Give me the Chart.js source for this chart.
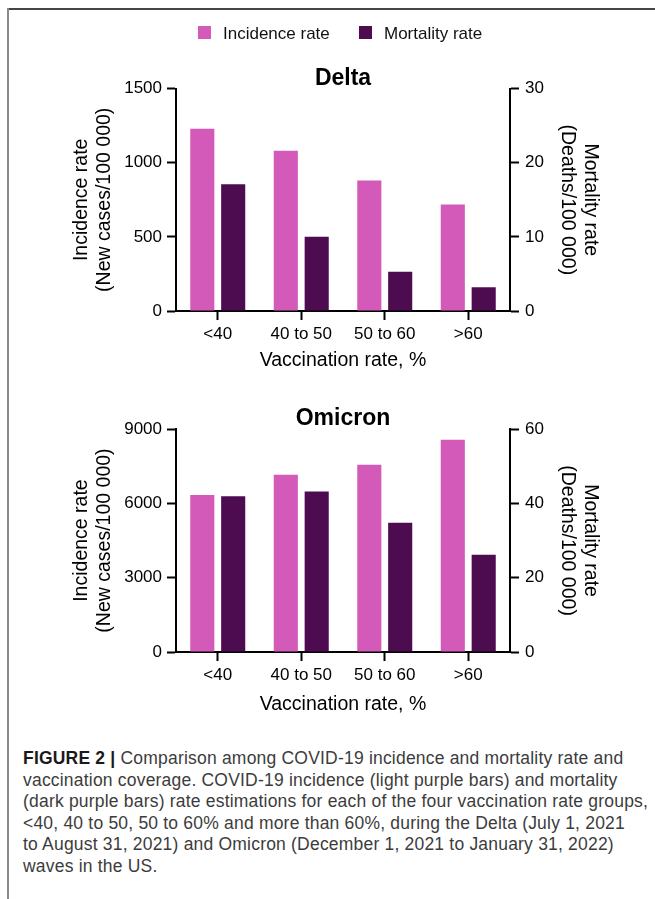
<!DOCTYPE html>
<html>
<head>
<meta charset="utf-8">
<script src="https://cdn.jsdelivr.net/npm/chart.js@4.4.1/dist/chart.umd.min.js"></script>
<style>
  html, body { margin: 0; padding: 0; background: #fff; overflow: hidden; }
  body { width: 655px; height: 899px; position: relative; font-family: "Liberation Sans", Arial, sans-serif; }
  .frame-top { position: absolute; left: 7px; top: 8px; width: 648px; height: 2px; background: #454545; }
  .frame-left { position: absolute; left: 7px; top: 8px; width: 2px; height: 891px; background: #8a8a8a; }
  .box { position: absolute; left: 0; width: 655px; }
  #delta-box { top: 0; height: 372px; }
  #omicron-box { top: 380px; height: 336px; }
  .caption { position: absolute; left: 23px; top: 748px; font-size: 17.5px; letter-spacing: 0.2px; line-height: 21.6px; color: #3c3c3c; white-space: nowrap; }
  .caption b { color: #1a1a1a; }
</style>
</head>
<body>
<div class="frame-top"></div>
<div class="frame-left"></div>
<div class="box" id="delta-box"><canvas id="delta"></canvas></div>
<div class="box" id="omicron-box"><canvas id="omicron"></canvas></div>
<div class="caption">
<b>FIGURE 2 |</b> Comparison among COVID-19 incidence and mortality rate and<br>
vaccination coverage. COVID-19 incidence (light purple bars) and mortality<br>
(dark purple bars) rate estimations for each of the four vaccination rate groups,<br>
&lt;40, 40 to 50, 50 to 60% and more than 60%, during the Delta (July 1, 2021<br>
to August 31, 2021) and Omicron (December 1, 2021 to January 31, 2022)<br>
waves in the US.
</div>
<script>
// values
var categories = ['<40', '40 to 50', '50 to 60', '>60'];
var seriesNames = ['Incidence rate', 'Mortality rate'];

var deltaIncidence = [1230, 1080, 880, 718];
var deltaMortality = [17.1, 10.0, 5.3, 3.2];
var deltaIncidenceTicks = [0, 500, 1000, 1500];
var deltaMortalityTicks = [0, 10, 20, 30];

var omicronIncidence = [6340, 7160, 7560, 8570];
var omicronMortality = [41.9, 43.2, 34.8, 26.2];
var omicronIncidenceTicks = [0, 3000, 6000, 9000];
var omicronMortalityTicks = [0, 20, 40, 60];

var pink = '#d35ab8';
var purple = '#4d0b50';

Chart.defaults.font.family = '"Liberation Sans", Arial, sans-serif';
Chart.defaults.color = '#000';

// legend drawn at the top of the first chart
var topLegend = {
    id: 'topLegend',
    afterDraw: function (chart, args, opts) {
        if (!opts.show) return;
        var c = chart.ctx;
        c.save();
        c.font = '17px "Liberation Sans", Arial, sans-serif';
        c.textBaseline = 'middle';
        chart.data.datasets.forEach(function (ds, i) {
            var x = opts.x[i];
            c.fillStyle = ds.backgroundColor;
            c.fillRect(x, 26, 13, 13);
            c.fillStyle = '#111';
            c.fillText(ds.label, x + 25, 34);
        });
        c.restore();
    }
};

function renderChart(id, titleText, incidence, mortality, incTicks, mortTicks, lay) {
    var ctx = document.getElementById(id);
    return new Chart(ctx, {
        type: 'bar',
        data: {
            labels: categories,
            datasets: [{
                label: seriesNames[0],
                data: incidence,
                yAxisID: 'y',
                backgroundColor: pink,
                categoryPercentage: 0.74,
                barPercentage: 0.78
            }, {
                label: seriesNames[1],
                data: mortality,
                yAxisID: 'y1',
                backgroundColor: purple,
                categoryPercentage: 0.74,
                barPercentage: 0.78
            }]
        },
        options: {
            responsive: true,
            maintainAspectRatio: false,
            animation: false,
            layout: { padding: { top: lay.top, left: 0, right: 0, bottom: 0 } },
            plugins: {
                legend: { display: false },
                tooltip: { enabled: false },
                title: {
                    display: true,
                    text: titleText,
                    fullSize: false,
                    color: '#000',
                    font: { size: 23, weight: 'bold', lineHeight: 1.2 },
                    padding: { top: 0, bottom: lay.titleGap }
                },
                topLegend: { show: lay.legend, x: [198, 359] }
            },
            scales: {
                x: {
                    z: 1,
                    offset: true,
                    grid: { display: true, offset: false, drawOnChartArea: false, tickLength: 9, tickWidth: 2, tickColor: '#000' },
                    border: { display: true, color: '#000', width: 2 },
                    ticks: { color: '#000', font: { size: 17 }, padding: 4, maxRotation: 0 },
                    title: { display: true, text: 'Vaccination rate, %', color: '#000', font: { size: 19.5, lineHeight: 1.18 }, padding: 0 },
                    afterFit: function (s) { s.height = lay.xHeight; }
                },
                y: {
                    position: 'left',
                    min: 0,
                    max: incTicks[incTicks.length - 1],
                    afterBuildTicks: function (s) { s.ticks = incTicks.map(function (v) { return { value: v }; }); },
                    grid: { drawOnChartArea: false, tickLength: 9, tickWidth: 2, tickColor: '#000' },
                    border: { color: '#000', width: 2 },
                    ticks: { color: '#000', font: { size: 17 }, padding: 5, callback: function (v) { return String(v); } },
                    title: { display: true, text: ['Incidence rate', '(New cases/100 000)'], color: '#000', font: { size: 19.5, lineHeight: 1.18 }, padding: { top: 70, bottom: 0 } },
                    afterFit: function (s) { s.width = 176; }
                },
                y1: {
                    position: 'right',
                    min: 0,
                    max: mortTicks[mortTicks.length - 1],
                    afterBuildTicks: function (s) { s.ticks = mortTicks.map(function (v) { return { value: v }; }); },
                    grid: { drawOnChartArea: false, tickLength: 9, tickWidth: 2, tickColor: '#000' },
                    border: { color: '#000', width: 2 },
                    ticks: { color: '#000', font: { size: 17 }, padding: 6, callback: function (v) { return String(v); } },
                    title: { display: true, text: ['Mortality rate', '(Deaths/100 000)'], color: '#000', font: { size: 19.5, lineHeight: 1.18 }, padding: { top: 53, bottom: 0 } },
                    afterFit: function (s) { s.width = 145; }
                }
            }
        },
        plugins: [topLegend]
    });
}

renderChart('delta', 'Delta', deltaIncidence, deltaMortality, deltaIncidenceTicks, deltaMortalityTicks,
    { top: 65, titleGap: -4, xHeight: 61, legend: true });
renderChart('omicron', 'Omicron', omicronIncidence, omicronMortality, omicronIncidenceTicks, omicronMortalityTicks,
    { top: 25, titleGap: -3.5, xHeight: 64, legend: false });
</script>
</body>
</html>
